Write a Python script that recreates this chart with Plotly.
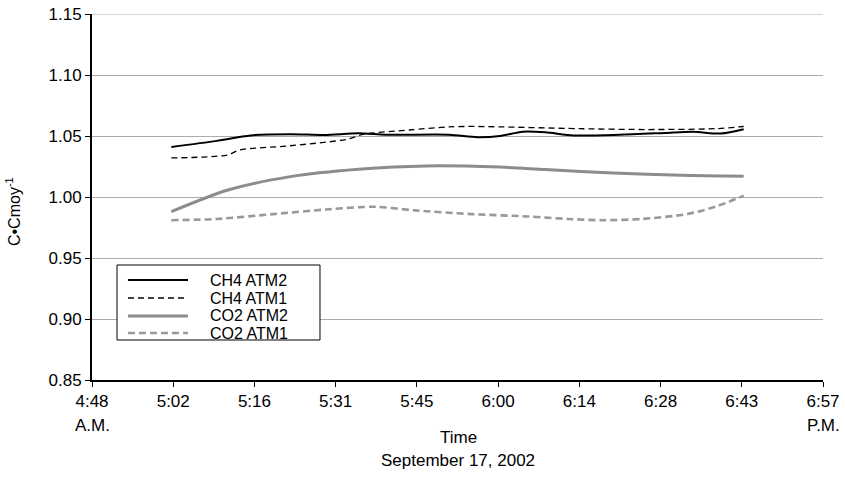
import plotly.graph_objects as go

# ---- data ----
tick_labels = ["4:48", "5:02", "5:16", "5:31", "5:45", "6:00", "6:14", "6:28", "6:43", "6:57"]
y_ticks = [0.85, 0.90, 0.95, 1.00, 1.05, 1.10, 1.15]

ch4_atm2_t = ["5:02", "5:10", "5:16", "5:23", "5:29", "5:35", "5:40", "5:51", "5:56", "6:00",
              "6:04", "6:08", "6:13", "6:21", "6:29", "6:34", "6:39", "6:43"]
ch4_atm2_v = [1.041, 1.046, 1.0505, 1.0515, 1.0508, 1.0522, 1.051, 1.051, 1.049, 1.050,
              1.0535, 1.053, 1.0505, 1.051, 1.0525, 1.0535, 1.052, 1.0555]

ch4_atm1_t = ["5:02", "5:12", "5:14", "5:23", "5:33", "5:36", "5:44", "5:51", "5:56", "6:14",
              "6:26", "6:38", "6:43"]
ch4_atm1_v = [1.032, 1.0345, 1.0385, 1.0420, 1.0473, 1.0515, 1.0549, 1.0575, 1.0578, 1.0560,
              1.0553, 1.0560, 1.0578]

co2_atm2_t = ["5:02", "5:12", "5:23", "5:35", "5:47", "6:00", "6:08", "6:20", "6:32", "6:43"]
co2_atm2_v = [0.988, 1.0057, 1.0167, 1.0227, 1.0255, 1.0245, 1.0225, 1.0197, 1.0178, 1.0170]

co2_atm1_t = ["5:02", "5:10", "5:20", "5:30", "5:38", "5:45", "5:55", "6:05", "6:12", "6:18",
              "6:25", "6:33", "6:38", "6:43"]
co2_atm1_v = [0.981, 0.982, 0.986, 0.990, 0.992, 0.989, 0.986, 0.984, 0.982, 0.981,
              0.982, 0.986, 0.992, 1.001]

series_names = ["CH4 ATM2", "CH4 ATM1", "CO2 ATM2", "CO2 ATM1"]


def to_min(s):
    h, m = s.split(":")
    return int(h) * 60 + int(m)


x0, x1 = to_min("4:48"), to_min("6:57")
tick_vals = [x0 + k * (x1 - x0) / 9 for k in range(10)]

FONT = "Liberation Sans, Arial, sans-serif"
FS = 17

styles = [
    dict(color="#000000", width=2, dash="solid"),
    dict(color="#000000", width=1.3, dash="6px,4px"),
    dict(color="#8c8c8c", width=3, dash="solid"),
    dict(color="#999999", width=2.6, dash="7px,4px"),
]
data = [(ch4_atm2_t, ch4_atm2_v), (ch4_atm1_t, ch4_atm1_v),
        (co2_atm2_t, co2_atm2_v), (co2_atm1_t, co2_atm1_v)]

fig = go.Figure()
for name, (t, v), ln in zip(series_names, data, styles):
    fig.add_trace(go.Scatter(
        x=[to_min(s) for s in t], y=v, name=name, mode="lines",
        line=dict(shape="spline", smoothing=0.8, **ln),
    ))

fig.update_layout(
    width=845, height=482,
    margin=dict(l=92, r=22, t=14, b=102, autoexpand=False),
    paper_bgcolor="white", plot_bgcolor="white",
    font=dict(family=FONT, size=FS, color="#000000"),
    showlegend=False,
    xaxis=dict(
        range=[x0, x1], tickvals=tick_vals, ticktext=tick_labels,
        showgrid=False, zeroline=False, automargin=False,
        showline=True, linecolor="#000000", linewidth=1.5,
        ticks="outside", ticklen=5, tickcolor="#000000",
        tickfont=dict(family=FONT, size=FS), ticklabeloverflow="allow",
    ),
    yaxis=dict(
        range=[0.85, 1.15], tickvals=y_ticks,
        tickformat=".2f", automargin=False,
        showgrid=True, gridcolor="#acacac", gridwidth=1, zeroline=False,
        showline=True, linecolor="#000000", linewidth=2,
        ticks="outside", ticklen=5, tickcolor="#000000",
        tickfont=dict(family=FONT, size=FS), ticklabeloverflow="allow",
    ),
)

# top gridline (plotly omits the gridline on the plot edge)
fig.add_shape(type="line", xref="paper", yref="y", x0=0, x1=1, y0=y_ticks[-1], y1=y_ticks[-1],
              line=dict(color="#acacac", width=1), layer="below")

# legend box drawn as in the reference (compact rows)
fig.add_shape(type="rect", xref="paper", yref="paper", x0=0.0342, x1=0.3119, y0=0.1093, y1=0.3142,
              line=dict(color="#000000", width=1), fillcolor="white", layer="above")
row_y = [0.2732, 0.2240, 0.1749, 0.1284]
for name, ln, ry in zip(series_names, styles, row_y):
    fig.add_shape(type="line", xref="paper", yref="paper", x0=0.0492, x1=0.1313, y0=ry, y1=ry,
                  line=dict(color=ln["color"], width=ln["width"], dash=ln["dash"]), layer="above")
    fig.add_annotation(x=0.1587, y=ry, xref="paper", yref="paper", text=name, showarrow=False,
                       xanchor="left", yanchor="middle",
                       font=dict(family=FONT, size=16, color="#000000"))

ann_font = dict(family=FONT, size=FS, color="#000000")
fig.add_annotation(x=0, y=-0.123, xref="paper", yref="paper", text="A.M.",
                   showarrow=False, xanchor="center", yanchor="middle", font=ann_font)
fig.add_annotation(x=1, y=-0.123, xref="paper", yref="paper", text="P.M.",
                   showarrow=False, xanchor="center", yanchor="middle", font=ann_font)
fig.add_annotation(x=0.5007, y=-0.158, xref="paper", yref="paper", text="Time",
                   showarrow=False, xanchor="center", yanchor="middle", font=ann_font)
fig.add_annotation(x=0.5007, y=-0.219, xref="paper", yref="paper", text="September 17, 2002",
                   showarrow=False, xanchor="center", yanchor="middle", font=ann_font)
fig.add_annotation(x=-0.108, y=0.459, xref="paper", yref="paper", text="C•Cmoy<sup>-1</sup>",
                   textangle=-90, showarrow=False, xanchor="center", yanchor="middle",
                   font=dict(family=FONT, size=16, color="#000000"))

fig.write_html("out.html", config={"displayModeBar": False},
               post_script="document.body.style.margin='0';")
